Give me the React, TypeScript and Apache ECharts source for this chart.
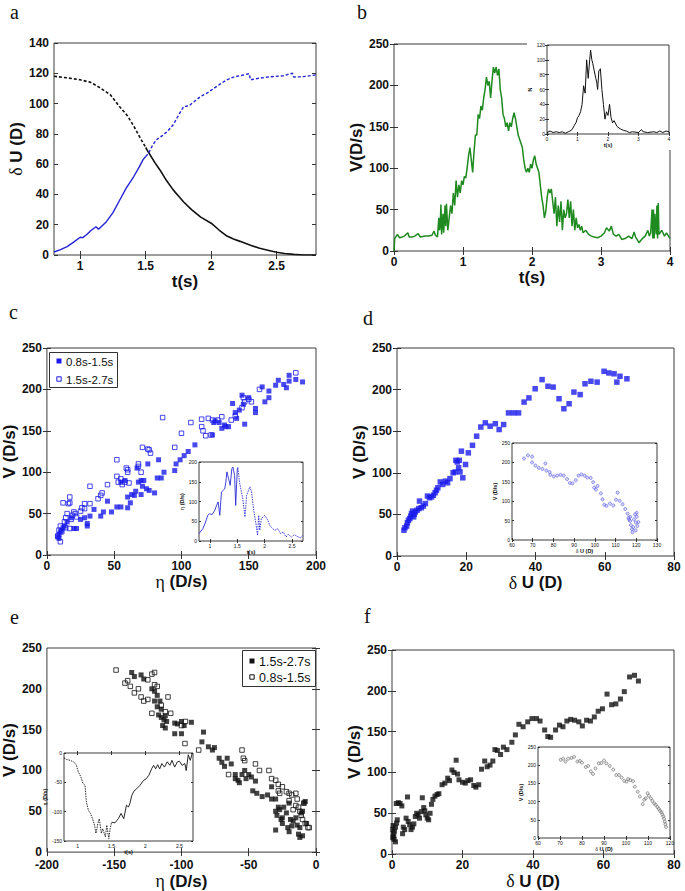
import React, { useEffect, useRef } from "react";
import * as echarts from "echarts";

const SANS = "'Liberation Sans', Arial, Helvetica, sans-serif";
const SERIF = "'Liberation Serif', 'Times New Roman', serif";

// ---------- Panel a : delta U vs t ----------
const aTimeTicks = [1, 1.5, 2, 2.5];
const aDeltaTicks = [0, 20, 40, 60, 80, 100, 120, 140];
const aBlackEarly = [[0.8,118],[0.9,117],[1.0,115.7],[1.08,114],[1.15,110.5],[1.23,105.8],[1.3,98],[1.36,92],[1.41,85],[1.46,77],[1.5,71]];
const aBlackLate = [[1.5,71],[1.52,68],[1.57,61],[1.61,56],[1.66,49],[1.71,43],[1.75,39],[1.79,35],[1.85,30],[1.92,25],[2.0,21],[2.06,16.5],[2.12,12.5],[2.17,10.5],[2.22,9],[2.3,6.5],[2.37,4.4],[2.44,3],[2.5,1.8],[2.56,1],[2.63,0.4],[2.7,0],[2.8,0]];
const aBlueEarly = [[0.8,2],[0.85,3.5],[0.9,5.5],[0.95,8.5],[1.0,11.7],[1.02,11.5],[1.05,13.5],[1.08,16],[1.11,18],[1.12,18.7],[1.14,17],[1.17,19.5],[1.2,22],[1.25,28],[1.3,36],[1.35,44],[1.41,52],[1.45,58],[1.48,63],[1.5,65]];
const aBlueLate = [[1.5,65],[1.52,67],[1.55,72],[1.58,76],[1.63,79],[1.67,82],[1.71,86],[1.76,93.7],[1.79,98],[1.83,98.5],[1.88,102],[1.92,104.7],[1.97,107],[2.02,110],[2.07,113],[2.12,115.7],[2.17,117.5],[2.22,118.4],[2.29,119.7],[2.3,115.7],[2.35,116.5],[2.43,117.5],[2.5,118],[2.55,118.4],[2.62,120],[2.63,117.5],[2.68,117.7],[2.73,118],[2.8,119]];

// ---------- Panel b : V vs t ----------
const bTimeTicks = [0, 1, 2, 3, 4];
const bVTicks = [0, 50, 100, 150, 200, 250];
const bVelocity = [[0,0],[0.01,15],[0.05,20],[0.08,16],[0.12,17],[0.15,18],[0.2,22],[0.22,17],[0.27,17],[0.3,18],[0.35,21],[0.38,17],[0.45,18],[0.5,18],[0.55,19],[0.58,24],[0.6,19],[0.63,17],[0.65,40],[0.66,25],[0.67,30],[0.68,56],[0.69,20],[0.71,45],[0.72,22],[0.74,55],[0.75,30],[0.76,57],[0.78,25],[0.8,40],[0.82,55],[0.84,45],[0.86,70],[0.88,55],[0.9,85],[0.92,65],[0.94,80],[0.96,70],[0.98,85],[1.0,80],[1.02,90],[1.04,88],[1.06,100],[1.08,115],[1.1,125],[1.12,110],[1.14,95],[1.16,120],[1.18,140],[1.2,140],[1.22,165],[1.24,160],[1.26,175],[1.28,170],[1.3,185],[1.32,195],[1.34,210],[1.36,200],[1.38,205],[1.4,185],[1.42,205],[1.44,222],[1.46,215],[1.48,222],[1.5,212],[1.52,220],[1.54,195],[1.56,185],[1.58,165],[1.6,160],[1.62,150],[1.64,155],[1.66,145],[1.68,155],[1.7,150],[1.72,160],[1.74,167],[1.76,160],[1.78,150],[1.8,140],[1.82,135],[1.84,130],[1.86,125],[1.88,110],[1.9,100],[1.92,95],[1.94,100],[1.96,95],[1.98,105],[2.0,100],[2.02,110],[2.04,115],[2.06,105],[2.08,100],[2.1,95],[2.12,80],[2.14,65],[2.16,55],[2.18,40],[2.2,48],[2.22,65],[2.24,75],[2.26,70],[2.28,75],[2.3,60],[2.32,45],[2.34,65],[2.36,30],[2.38,55],[2.4,35],[2.42,60],[2.44,25],[2.46,50],[2.48,40],[2.5,45],[2.52,62],[2.54,40],[2.56,60],[2.58,30],[2.6,50],[2.62,25],[2.64,40],[2.66,28],[2.68,32],[2.7,25],[2.72,30],[2.74,22],[2.78,25],[2.82,20],[2.86,18],[2.9,17],[2.95,16],[3.0,18],[3.05,22],[3.08,28],[3.12,24],[3.15,30],[3.18,20],[3.22,18],[3.26,20],[3.3,14],[3.35,15],[3.4,18],[3.45,15],[3.48,23],[3.5,17],[3.55,10],[3.6,15],[3.64,18],[3.68,25],[3.7,18],[3.72,22],[3.74,50],[3.75,15],[3.76,50],[3.77,15],[3.78,45],[3.8,20],[3.81,55],[3.82,15],[3.83,58],[3.84,20],[3.88,25],[3.92,18],[3.95,22],[4.0,15]];
const bInsetNTicks = [0, 20, 40, 60, 80, 100, 120];
const bInsetN = [[0,2],[0.1,4],[0.2,2],[0.3,3],[0.4,2],[0.5,3],[0.6,1],[0.7,3],[0.8,5],[0.85,8],[0.9,12],[0.95,15],[1.0,22],[1.05,25],[1.1,30],[1.15,40],[1.2,65],[1.25,55],[1.3,100],[1.35,75],[1.4,100],[1.43,113],[1.47,100],[1.5,95],[1.55,85],[1.6,75],[1.63,70],[1.66,60],[1.7,85],[1.75,88],[1.8,60],[1.85,40],[1.9,20],[1.95,30],[2.0,25],[2.05,40],[2.1,22],[2.15,15],[2.2,18],[2.3,10],[2.4,7],[2.5,5],[2.6,4],[2.7,2],[2.8,3],[3.0,2],[3.1,6],[3.15,3],[3.3,2],[3.5,3],[3.6,2],[3.7,4],[3.8,2],[3.9,4],[4.0,3]];

// ---------- Panel c : V vs eta ----------
const cEtaTicks = [0, 50, 100, 150, 200];
const cVTicks = [0, 50, 100, 150, 200, 250];
const cEarly = [[8,22],[9,25],[10,28],[9,20],[11,30],[12,33],[13,35],[15,40],[18,45],[20,32],[22,32],[25,43],[28,45],[30,38],[30,35],[32,47],[35,55],[40,47],[42,52],[45,65],[48,52],[52,58],[55,58],[55,88],[58,90],[60,70],[60,57],[62,63],[63,73],[65,72],[66,77],[67,105],[68,88],[70,90],[70,73],[71,83],[72,90],[74,80],[75,110],[76,78],[80,75],[82,93],[83,115],[85,93],[87,100],[95,102],[96,110],[99,115],[102,120],[105,125],[110,133],[123,145],[124,160],[125,162],[128,160],[130,153],[132,157],[133,155],[135,155],[138,183],[140,172],[141,165],[143,175],[145,193],[146,182],[147,158],[150,190],[155,172],[155,177],[160,203],[162,185],[165,190],[165,198],[170,205],[172,211],[176,206],[178,202],[180,210],[180,217],[185,212],[190,209]];
const cLate = [[8,23],[9,30],[10,35],[10,16],[11,28],[12,63],[13,40],[14,45],[14,33],[15,50],[16,62],[17,63],[17,70],[17,32],[18,43],[19,48],[20,52],[21,50],[22,46],[25,53],[26,57],[28,62],[28,56],[32,62],[32,83],[38,68],[40,72],[41,75],[45,85],[52,95],[52,115],[53,88],[55,92],[56,85],[58,88],[59,105],[60,103],[60,100],[61,87],[68,110],[68,107],[70,100],[71,130],[75,128],[76,127],[77,123],[86,166],[95,130],[100,147],[107,160],[115,164],[115,155],[116,150],[118,144],[120,165],[122,145],[123,163],[127,163],[130,167],[137,163],[140,168],[145,178],[146,190],[147,185],[150,188],[152,185],[158,200],[185,220]];
const cInsetTimeTicks = [1, 1.5, 2, 2.5];
const cInsetEtaTicks = [0, 50, 100, 150, 200];
const cInsetEarly = [[0.8,19],[0.87,31],[0.92,48],[0.96,65],[0.99,69],[1.04,67],[1.09,78],[1.12,90],[1.15,99],[1.18,65],[1.21,124],[1.24,128],[1.27,132],[1.29,149],[1.31,175],[1.34,158],[1.37,141],[1.4,183],[1.42,187],[1.45,166],[1.47,90],[1.5,183]];
const cInsetLate = [[1.5,183],[1.51,187],[1.54,149],[1.57,128],[1.6,107],[1.64,61],[1.67,116],[1.73,137],[1.76,124],[1.8,78],[1.84,44],[1.87,14],[1.89,65],[1.91,27],[1.94,57],[2.0,65],[2.06,52],[2.09,40],[2.12,35],[2.18,27],[2.24,31],[2.29,19],[2.34,23],[2.39,10],[2.43,17],[2.49,10],[2.54,16],[2.59,12],[2.65,8],[2.7,14]];

// ---------- Panel d : V vs delta U (early) ----------
const dDeltaTicks = [0, 20, 40, 60, 80];
const dVTicks = [0, 50, 100, 150, 200, 250];
const dPoints = [[2,31],[2.3,34],[2.8,36],[3,40],[3.3,43],[3.7,45],[4,48],[4.2,51],[4.5,54],[4.8,47],[5,50],[5.3,53],[5.8,55],[6.3,57],[6.5,66],[7,58],[7.6,60],[8.2,63],[8.8,72],[9.4,70],[10,71],[10.5,73],[11,76],[11.4,79],[11.8,82],[12.5,89],[13.2,86],[14,90],[14.6,88],[15.3,93],[16.2,100],[16.8,101],[17,115],[17.4,113],[17.8,106],[18,115],[18.2,101],[18.6,126],[19,94],[19.8,110],[20.6,124],[21.8,133],[23,144],[24.2,155],[25.5,160],[26.9,156],[28.4,159],[29.5,152],[30.8,158],[32.2,172],[33.7,172],[35.1,172],[36.7,185],[38.1,190],[39.9,201],[41.9,212],[43.6,204],[45.1,203],[46.8,189],[48.2,177],[49.7,183],[51.1,197],[52.9,194],[54.3,207],[56,210],[57.8,209],[59.8,222],[61.2,220],[62.7,219],[63.5,209],[64.4,216],[66.4,213]];
const dInsetDeltaTicks = [60, 70, 80, 90, 100, 110, 120, 130];
const dInsetVTicks = [0, 50, 100, 150, 200, 250];
const dInsetPoints = [[65.8,210],[67.7,218],[69.7,215],[69.7,200],[71.3,192],[72.9,186],[74.7,183],[76.1,197],[76.6,179],[78.2,175],[78.5,168],[80.2,164],[81.8,166],[83.4,168],[85,166],[86.6,157],[87.9,147],[89.2,146],[90.8,154],[92.1,166],[93.5,169],[95,166],[96.3,161],[98,160],[99.2,149],[99.7,135],[100.5,130],[101.3,139],[102.9,120],[103.7,105],[104.5,91],[105.6,88],[107.3,94],[108.9,89],[110.2,104],[111,122],[112,101],[113.4,92],[114.7,80],[115.8,68],[116.3,57],[117,49],[117.4,38],[117.9,28],[118.2,20],[118.5,33],[118.9,53],[119.4,66],[119.8,45],[120.2,60],[120.5,36],[119.7,25],[117.1,60],[116.5,53],[120.2,70],[121,46]];

// ---------- Panel e : V vs eta (negative) ----------
const eEtaTicks = [-200, -150, -100, -50, 0];
const eVTicks = [0, 50, 100, 150, 200, 250];
const eLate = [[-137,220],[-135,215],[-130,217],[-128,212],[-122,200],[-120,197],[-118,192],[-120,185],[-116,185],[-118,178],[-115,175],[-117,168],[-115,165],[-112,167],[-113,162],[-111,160],[-114,155],[-112,152],[-105,158],[-103,157],[-100,160],[-105,145],[-100,145],[-98,155],[-92.6,159],[-84.8,135],[-83.6,147],[-80,129],[-77,125],[-75.5,128],[-72,115],[-70,110],[-68,105],[-66,115],[-63,108],[-60,95],[-60,90],[-58,88],[-57,85],[-55,95],[-53,100],[-50,95],[-52,90],[-48,92],[-47,75],[-45,87],[-44,72],[-40,68],[-36,70],[-33,80],[-30,50],[-30,65],[-28,55],[-29,45],[-27,52],[-26,40],[-25,35],[-24,55],[-22,48],[-21,30],[-20,25],[-19,40],[-18,32],[-17,38],[-15,42],[-14,33],[-13,22],[-12,30],[-10,20],[-11,48],[-9,60],[-8,62],[-7,35],[-10,50],[-12,18],[-30,27],[-33,65],[-25,42],[-20,60]];
const eEarly = [[-148.6,223],[-142,207],[-140,210],[-138,203],[-135,195],[-132,200],[-130,190],[-128,185],[-125,187],[-125,211],[-122,170],[-122,218],[-120,220],[-120,205],[-118,203],[-115,180],[-112,172],[-110,190],[-108,170],[-100,155],[-97,160],[-97.4,133],[-87.2,125],[-65,95],[-55,125],[-54,115],[-53,112],[-45,108],[-42,100],[-35,100],[-33,90],[-30,88],[-28,75],[-27,72],[-25,80],[-22,74],[-20,72],[-18,70],[-15,72],[-14,65],[-13,55],[-12,50],[-11,45],[-10,40],[-9,60],[-8,35],[-6,30],[-5,30],[-15,57],[-17,52],[-28,83],[-20,63]];
const eInsetTimeTicks = [1, 1.5, 2, 2.5];
const eInsetEtaTicks = [-150, -100, -50, 0];
const eInsetEarly = [[0.8,-8.5],[0.84,-11],[0.89,-12.5],[0.94,-15],[0.98,-20],[1.01,-32],[1.05,-41],[1.08,-52],[1.11,-55],[1.13,-84],[1.16,-98],[1.19,-103],[1.22,-112],[1.25,-123],[1.27,-137],[1.3,-120],[1.32,-112],[1.35,-137],[1.37,-129],[1.41,-143],[1.43,-123],[1.46,-146],[1.48,-129],[1.5,-118]];
const eInsetLate = [[1.5,-118],[1.55,-119],[1.6,-112],[1.64,-103],[1.68,-112],[1.72,-89],[1.75,-92],[1.77,-86],[1.8,-72],[1.83,-65],[1.87,-61],[1.92,-55],[1.97,-47],[2.01,-44],[2.05,-38],[2.09,-27],[2.12,-21],[2.15,-27],[2.18,-20],[2.21,-27],[2.24,-18],[2.28,-24],[2.32,-15],[2.36,-21],[2.39,-12.5],[2.43,-24],[2.47,-15],[2.5,-14],[2.54,-21],[2.58,-18],[2.6,-30],[2.63,-3],[2.66,-12.5],[2.69,0],[2.7,0]];

// ---------- Panel f : V vs delta U (late) ----------
const fDeltaTicks = [0, 20, 40, 60, 80];
const fVTicks = [0, 50, 100, 150, 200, 250];
const fPoints = [[0.2,20],[0.3,25],[0.2,30],[0.3,35],[0.5,22],[0.6,18],[0.7,28],[1,15],[1,33],[1.3,38],[1.5,42],[1.2,62],[1.8,63],[2.3,62],[2.8,59],[3,25],[3.2,33],[3.6,30],[4,44],[4.4,70],[4.6,40],[5,36],[5.4,30],[5.8,33],[6.2,37],[6.6,46],[7,50],[7.4,48],[7.8,44],[8.3,52],[8.6,69],[9,57],[9.3,53],[9.6,48],[10,44],[10.4,42],[10.8,50],[11.2,61],[11.6,67],[12.2,71],[12.8,73],[13.3,74],[14.2,85],[15,87],[15.8,93],[16.3,90],[17,103],[17.6,100],[18.2,115],[18.6,98],[19,91],[20,88],[20.8,87],[21.5,90],[22.3,91],[23.2,84],[23.8,82],[24.6,85],[25.4,104],[26.3,114],[27,107],[27.8,109],[28.6,114],[29.2,128],[29.9,127],[30.8,122],[31.6,131],[32.6,128],[34,137],[35,146],[36,159],[37.2,156],[38.5,162],[39.7,166],[41,166],[42,163],[43.3,152],[44.2,144],[45,143],[46.4,152],[47.5,158],[48.5,156],[49.6,163],[50.7,165],[51.8,164],[53,162],[54,157],[55.2,164],[56.3,163],[57.4,168],[58.5,175],[59.7,178],[61,196],[62.3,183],[63.5,184],[64.8,190],[65.9,199],[67.4,217],[68.8,219],[69.9,212]];
const fInsetDeltaTicks = [60, 70, 80, 90, 100, 110, 120];
const fInsetVTicks = [0, 50, 100, 150, 200, 250];
const fInsetPoints = [[70.3,215],[71.4,218],[72.5,210],[73.7,218],[75.2,220],[76.4,223],[77.9,210],[79,212],[80,207],[81.7,195],[82.8,198],[84,183],[85,176],[86.1,191],[87.6,205],[88.8,206],[90,213],[91.1,205],[92.6,198],[94.2,188],[95.6,173],[96.8,173],[98,166],[99.2,157],[100.3,155],[101,162],[102,159],[103.2,156],[104,141],[105.3,127],[106.3,114],[107.6,93],[108.3,105],[109,109],[109.8,123],[110.4,116],[111.3,109],[112,102],[112.8,95],[113.5,91],[114.3,85],[114.9,80],[115.5,75],[116.1,71],[116.5,65],[117,59],[117.3,53],[117.6,45],[117.9,38],[118.2,30]];

const BLUE = "#1a1aeb";
const BLACK = "#111111";

function buildOption() {
  const grids: any[] = [];
  const xAxis: any[] = [];
  const yAxis: any[] = [];
  const series: any[] = [];

  function panel(p: any) {
    const gi = grids.length;
    grids.push({
      left: p.left, top: p.top, width: p.width, height: p.height,
      show: true, borderColor: "#3c3c3c", borderWidth: 1, backgroundColor: "#fff", z: p.z,
    });
    const lab = {
      fontSize: p.fs, fontWeight: p.bold ? "bold" : "normal", color: "#111",
      fontFamily: SANS, margin: p.margin,
    };
    const nameStyle = {
      fontSize: p.nameFs, fontWeight: p.nameBold ? "bold" : "normal", color: "#111", fontFamily: SANS,
      rich: { g: { fontFamily: SERIF, fontWeight: "normal", fontSize: p.nameFs * 1.05, color: "#111" } },
    };
    const tick = (vals: number[]) => ({
      show: true, inside: true, length: p.tickLen, customValues: vals,
      lineStyle: { color: "#333", width: 1 },
    });
    const xi = xAxis.length;
    xAxis.push({
      type: "value", gridIndex: gi, min: p.xMin, max: p.xMax, position: "bottom", z: p.z + 1,
      axisLine: { show: false }, splitLine: { show: false },
      axisTick: tick(p.xTicks), axisLabel: { ...lab, margin: p.xMargin ?? p.margin, customValues: p.xTicks },
      name: p.xName, nameLocation: "middle", nameGap: p.xGap, nameTextStyle: nameStyle,
    });
    xAxis.push({
      type: "value", gridIndex: gi, min: p.xMin, max: p.xMax, position: "top", z: p.z + 1,
      axisLine: { show: false }, splitLine: { show: false },
      axisTick: tick(p.xTicks), axisLabel: { show: false },
    });
    const yi = yAxis.length;
    yAxis.push({
      type: "value", gridIndex: gi, min: p.yMin, max: p.yMax, position: "left", z: p.z + 1,
      axisLine: { show: false }, splitLine: { show: false },
      axisTick: tick(p.yTicks), axisLabel: { ...lab, customValues: p.yTicks },
      name: p.yName, nameLocation: "middle", nameGap: p.yGap, nameTextStyle: nameStyle,
    });
    yAxis.push({
      type: "value", gridIndex: gi, min: p.yMin, max: p.yMax, position: "right", z: p.z + 1,
      axisLine: { show: false }, splitLine: { show: false },
      axisTick: tick(p.yTicks), axisLabel: { show: false },
    });
    return { x: xi, y: yi, z: p.z + 2 };
  }

  const main = { fs: 12, nameFs: 17, bold: true, nameBold: true, tickLen: 4, margin: 5, z: 0 };
  const ins = { fs: 5, nameFs: 5.5, bold: false, nameBold: true, tickLen: 2, margin: 2, z: 10 };

  const line = (ax: any, data: any, color: string, width: number, dash?: any) => ({
    type: "line", xAxisIndex: ax.x, yAxisIndex: ax.y, data, z: ax.z, silent: true,
    showSymbol: false, symbol: "none", lineStyle: { color, width, type: dash || "solid" },
  });
  const scat = (ax: any, data: any, size: number, itemStyle: any, symbol = "rect") => ({
    type: "scatter", xAxisIndex: ax.x, yAxisIndex: ax.y, data, z: ax.z, silent: true,
    symbol, symbolSize: size, itemStyle,
  });

  // a
  const A = panel({ ...main, left: 54, top: 43, width: 262, height: 212, xMin: 0.8, xMax: 2.8, xTicks: aTimeTicks,
    yMin: 0, yMax: 140, yTicks: aDeltaTicks, xName: "t(s)", yName: "{g|δ} U (D)", xGap: 15, yGap: 22 });
  series.push(line(A, aBlackEarly, BLACK, 1.6, [3, 2]));
  series.push(line(A, aBlackLate, BLACK, 1.6));
  series.push(line(A, aBlueEarly, "#2222d6", 1.4));
  series.push(line(A, aBlueLate, "#2222d6", 1.4, [3, 2]));

  // b
  const B = panel({ ...main, left: 394, top: 44, width: 276, height: 207, xMin: 0, xMax: 4, xTicks: bTimeTicks,
    yMin: 0, yMax: 250, yTicks: bVTicks, xName: "t(s)", yName: "V(D/s)", xGap: 15, yGap: 21 });
  series.push(line(B, bVelocity, "#1f8a1f", 1.5));
  const BI = panel({ ...ins, left: 547, top: 45, width: 122, height: 89, xMin: 0, xMax: 4, xTicks: bTimeTicks,
    yMin: 0, yMax: 120, yTicks: bInsetNTicks, xName: "t(s)", yName: "N", xGap: 8, yGap: 11 });
  series.push(line(BI, bInsetN, BLACK, 1));

  // c
  const C = panel({ ...main, left: 43, top: 348, width: 273, height: 207, xMin: 0, xMax: 200, xTicks: cEtaTicks,
    yMin: 0, yMax: 250, yTicks: cVTicks, xName: "{g|η} (D/s)", yName: "V (D/s)", xGap: 15, yGap: 21 });
  series.push(scat(C, cEarly, 5, { color: BLUE }));
  series.push(scat(C, cLate, 4.5, { color: "rgba(255,255,255,0)", borderColor: BLUE, borderWidth: 1 }));
  const CI = panel({ ...ins, left: 199, top: 462, width: 104, height: 79, xMin: 0.8, xMax: 2.7, xTicks: cInsetTimeTicks,
    yMin: 0, yMax: 200, yTicks: cInsetEtaTicks, xName: "t(s)", yName: "{g|η} (D/s)", xGap: 8, yGap: 9 });
  series.push(line(CI, cInsetEarly, "#2a2ad8", 0.9));
  series.push(line(CI, cInsetLate, "#2a2ad8", 0.9, [1.5, 1]));

  // d
  const D = panel({ ...main, left: 397, top: 348, width: 277, height: 208, xMin: 0, xMax: 80, xTicks: dDeltaTicks,
    yMin: 0, yMax: 250, yTicks: dVTicks, xName: "{g|δ} U (D)", yName: "V (D/s)", xGap: 13, yGap: 21 });
  series.push(scat(D, dPoints, 5.5, { color: BLUE }));
  const DI = panel({ ...ins, left: 512, top: 443, width: 145, height: 97, xMin: 60, xMax: 130, xTicks: dInsetDeltaTicks,
    yMin: 0, yMax: 250, yTicks: dInsetVTicks, xName: "{g|δ} U (D)", yName: "V (D/s)", xGap: 8, yGap: 12 });
  series.push(scat(DI, dInsetPoints, 3, { color: "rgba(120,120,240,0.35)", borderColor: "#5a5ae6", borderWidth: 0.8 }, "circle"));

  // e
  const E = panel({ ...main, left: 42, top: 648, width: 274, height: 207, xMin: -200, xMax: 0, xTicks: eEtaTicks,
    yMin: 0, yMax: 250, yTicks: eVTicks, xName: "{g|η} (D/s)", yName: "V (D/s)", xGap: 17, xMargin: 7, yGap: 21 });
  series.push(scat(E, eLate, 5, { color: BLACK }));
  series.push(scat(E, eEarly, 4.5, { color: "rgba(255,255,255,0)", borderColor: BLACK, borderWidth: 1 }));
  const EI = panel({ ...ins, left: 64, top: 753, width: 129, height: 88, xMin: 0.8, xMax: 2.7, xTicks: eInsetTimeTicks,
    yMin: -150, yMax: 0, yTicks: eInsetEtaTicks, xName: "t(s)", yName: "{g|η} (D/s)", xGap: 8, yGap: 11 });
  series.push(line(EI, eInsetEarly, BLACK, 0.9, [1.5, 1]));
  series.push(line(EI, eInsetLate, BLACK, 0.9));

  // f
  const F = panel({ ...main, left: 392, top: 650, width: 282, height: 207, xMin: 0, xMax: 80, xTicks: fDeltaTicks,
    yMin: 0, yMax: 250, yTicks: fVTicks, xName: "{g|δ} U (D)", yName: "V (D/s)", xGap: 14, yGap: 23 });
  series.push(scat(F, fPoints, 5, { color: BLACK }));
  const FI = panel({ ...ins, left: 538, top: 747, width: 132, height: 91, xMin: 60, xMax: 120, xTicks: fInsetDeltaTicks,
    yMin: 0, yMax: 250, yTicks: fInsetVTicks, xName: "{g|δ} U (D)", yName: "V (D/s)", xGap: 8, yGap: 12 });
  series.push(scat(FI, fInsetPoints, 3, { color: "rgba(160,160,160,0.3)", borderColor: "#6a6a6a", borderWidth: 0.8 }, "circle"));

  const txt = (x: number, y: number, text: string, size: number, family: string, z = 30, weight = "normal") => ({
    type: "text", x, y, z, silent: true,
    style: { text, fontSize: size, fontFamily: family, fontWeight: weight, fill: "#111",
      verticalAlign: "middle", textVerticalAlign: "middle" },
  });
  const sq = (x: number, y: number, filled: boolean, color: string) => ({
    type: "rect", z: 31, silent: true,
    shape: filled ? { x: x - 2.5, y: y - 2.5, width: 5, height: 5 } : { x: x - 2.2, y: y - 2.2, width: 4.4, height: 4.4 },
    style: filled ? { fill: color } : { fill: "#fff", stroke: color, lineWidth: 1 },
  });

  const graphic: any[] = [
    { type: "rect", z: 9, silent: true, shape: { x: 527, y: 0, width: 158, height: 150 }, style: { fill: "#fff" } },
    // panel letters
    txt(10, 12, "a", 20, SERIF), txt(357, 12, "b", 20, SERIF), txt(9, 312, "c", 20, SERIF),
    txt(363, 318, "d", 20, SERIF), txt(10, 617, "e", 20, SERIF), txt(364, 616, "f", 20, SERIF),
    // legend c
    { type: "rect", z: 30, silent: true, shape: { x: 49.5, y: 352.5, width: 68, height: 35 }, style: { fill: "#fff", stroke: "#333", lineWidth: 1 } },
    sq(59, 361, true, BLUE), txt(66, 361.5, "0.8s-1.5s", 11.5, SANS, 31),
    sq(59, 379, false, BLUE), txt(66, 379.5, "1.5s-2.7s", 11.5, SANS, 31),
    // legend e
    { type: "rect", z: 30, silent: true, shape: { x: 242.5, y: 650.5, width: 73, height: 36 }, style: { fill: "#fff", stroke: "#333", lineWidth: 1 } },
    sq(252, 661, true, BLACK), txt(259, 661.5, "1.5s-2.7s", 12.5, SANS, 31),
    sq(252, 677, false, BLACK), txt(259, 677.5, "0.8s-1.5s", 12.5, SANS, 31),
  ];

  return {
    animation: false,
    backgroundColor: "#fff",
    grid: grids,
    xAxis,
    yAxis,
    series,
    graphic,
  };
}

export default function App() {
  const ref = useRef<HTMLDivElement>(null);
  useEffect(() => {
    if (!ref.current) return;
    const chart = echarts.init(ref.current, null, { renderer: "svg" });
    chart.setOption(buildOption() as any);
    return () => chart.dispose();
  }, []);
  return (
    <div
      ref={ref}
      style={{ position: "absolute", left: 0, top: 0, width: 685, height: 891, background: "#fff" }}
    />
  );
}
